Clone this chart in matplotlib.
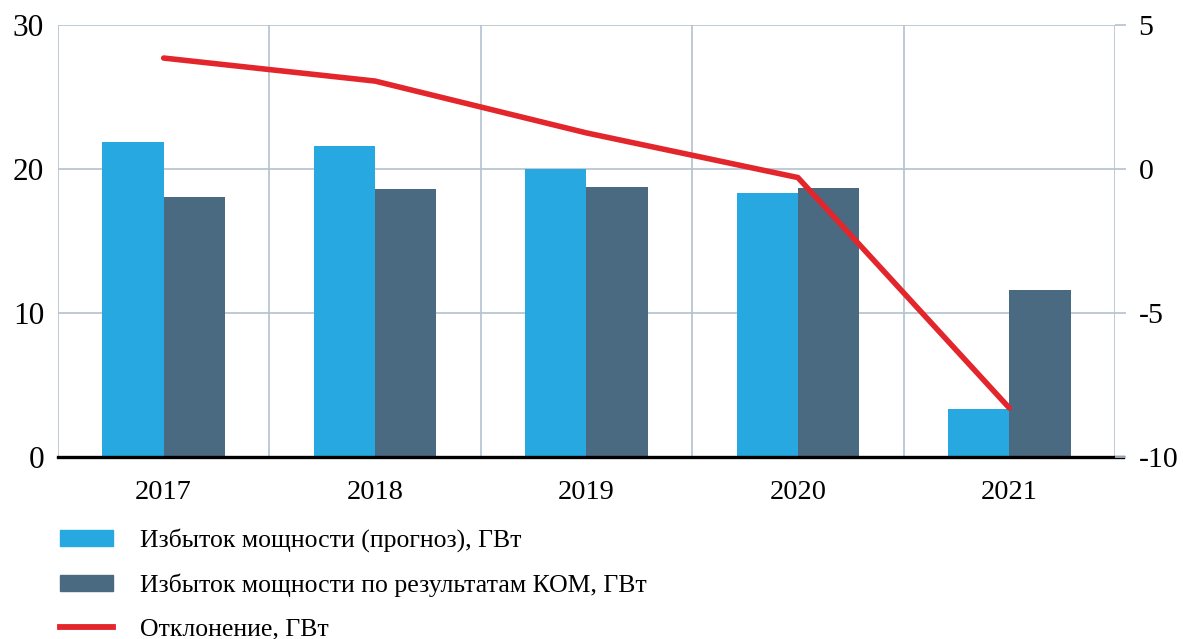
import numpy as np
import matplotlib
matplotlib.use("Agg")
import matplotlib.pyplot as plt
from matplotlib.patches import Patch
from matplotlib.lines import Line2D

plt.rcParams['font.family'] = ['Liberation Serif', 'DejaVu Serif']

years = ['2017', '2018', '2019', '2020', '2021']
forecast = [21.9, 21.6, 20.0, 18.35, 3.3]      # Избыток мощности (прогноз), ГВт
kom = [18.05, 18.6, 18.75, 18.7, 11.6]          # по результатам КОМ, ГВт
deviation = [3.85, 3.05, 1.25, -0.3, -8.3]      # Отклонение, ГВт

labels = ['Избыток мощности (прогноз), ГВт',
          'Избыток мощности по результатам КОМ, ГВт',
          'Отклонение, ГВт']

c_light = '#27a8e0'
c_dark = '#4a6a82'
c_red = '#e3262b'
c_grid = '#b3c2cf'

fig = plt.figure(figsize=(11.83, 6.39), dpi=100)
ax = fig.add_axes([0.049, 0.285, 0.8935, 0.676])

x = np.arange(len(years))
w = 0.29
ax.bar(x - w / 2, forecast, w, color=c_light, zorder=1)
ax.bar(x + w / 2, kom, w, color=c_dark, zorder=1)

ax.set_xlim(-0.5, len(years) - 0.5)
ax.set_ylim(0, 30)
ax.set_yticks([0, 10, 20, 30])
ax.set_xticks(x)
ax.set_xticklabels(years)
ax.set_xticks(np.arange(-0.5, len(years)), minor=True)

ax.grid(True, axis='y', color=c_grid, lw=1.2, zorder=0)
ax.grid(True, axis='x', which='minor', color=c_grid, lw=1.2, zorder=0)
ax.grid(False, axis='x', which='major')
ax.set_axisbelow(True)
for s in ax.spines.values():
    s.set_visible(False)
ax.tick_params(axis='x', which='both', length=0, labelsize=20.5, pad=17)
ax.tick_params(axis='y', length=0, labelsize=22.5, pad=10)

# thick baseline running a little past the right edge
ax.plot([0, 1.008], [0, 0], transform=ax.transAxes, color='black',
        lw=2.4, clip_on=False, zorder=5)

ax2 = ax.twinx()
ax2.set_ylim(-10, 5)
ax2.set_yticks([-10, -5, 0, 5])
ax2.set_yticklabels(['-10', '-5', '0', '5'])
for s in ax2.spines.values():
    s.set_visible(False)
ax2.tick_params(axis='y', length=8, width=1.2, color=c_grid, labelsize=21.5, pad=9)
ax2.plot(x, deviation, color=c_red, lw=4, solid_capstyle='round',
         solid_joinstyle='round', zorder=4)

handles = [Patch(color=c_light), Patch(color=c_dark),
           Line2D([], [], color=c_red, lw=4.2)]
fig.legend(handles, labels, loc='upper left', bbox_to_anchor=(0.0507, 0.173),
           frameon=False, fontsize=18.5, handlelength=2.06, handleheight=0.62,
           handletextpad=1.05, labelspacing=0.82, borderpad=0, borderaxespad=0)

fig.savefig('out.png', dpi=100)
